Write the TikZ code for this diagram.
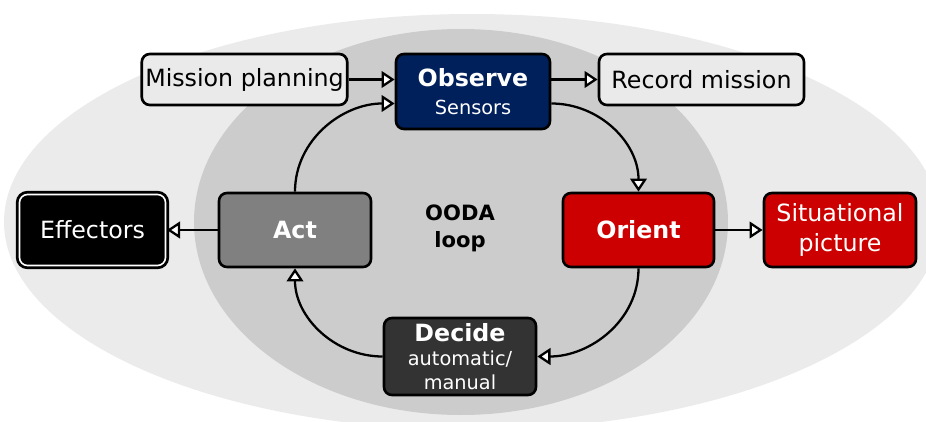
\documentclass[tikz,border=0pt]{standalone}
\usepackage{fontspec}
\setmainfont{DejaVu Sans}
\usetikzlibrary{positioning, calc, arrows.meta}
\definecolor{outergray}{HTML}{EBEBEB}
\definecolor{innergray}{HTML}{CCCCCC}
\definecolor{lightbox}{HTML}{EAEAEA}
\definecolor{navy}{HTML}{00205B}
\definecolor{actgray}{HTML}{808080}
\definecolor{oodared}{HTML}{CC0000}
\definecolor{darkbox}{HTML}{333333}
\newcommand{\subsize}{\fontsize{11}{13}\selectfont}

\begin{document}
\begin{tikzpicture}[
  box/.style={draw=black, line width=1.5pt, rounded corners=0.16cm, align=center,
    inner sep=2pt, font=\fontsize{13.5}{16}\selectfont},
  widebox/.style={box, fill=lightbox, minimum width=4.1cm, minimum height=1.02cm},
  loopbox/.style={box, text=white, minimum width=3.04cm, minimum height=1.48cm},
  link/.style={line width=1.3pt, line join=miter, ->, >={Triangle[length=7.5pt, width=9.5pt, fill=white]}}
]
\useasboundingbox (0,0) rectangle (18.52,8.42);
\clip (0,0) rectangle (18.52,8.42);
\fill[outergray] (9.44,3.98) ellipse [x radius=9.36, y radius=4.16];
\fill[innergray] (9.22,3.98) ellipse [x radius=5.34, y radius=3.86];

\node[widebox] (mission) at (4.89,6.83) {Mission planning};
\node[loopbox, fill=navy, minimum width=3.08cm, minimum height=1.5cm] (observe) at (9.46,6.59)
  {\textbf{Observe}\\[0pt]\subsize Sensors};
\node[widebox] (record) at (14.03,6.83) {Record mission};
\node[loopbox, fill=black, line width=1.6pt, double=white, double distance=0.9pt, minimum width=2.92cm, minimum height=1.42cm] (effectors) at (1.85,3.82) {Effectors};
\node[loopbox, fill=actgray, font=\fontsize{13.5}{16}\bfseries] (act) at (5.90,3.82) {Act};
\node[align=center, font=\fontsize{12}{15.5}\bfseries] (ooda) at (9.20,3.86) {OODA\\loop};
\node[loopbox, fill=oodared, minimum width=3.02cm, font=\fontsize{13.5}{16}\bfseries] (orient) at (12.77,3.82) {Orient};
\node[loopbox, fill=oodared, font=\fontsize{13.5}{17}\selectfont] (situational) at (16.80,3.82) {Situational\\picture};
\node[loopbox, fill=darkbox, minimum height=1.54cm] (decide) at (9.20,1.29)
  {\textbf{Decide}\\[-2.4pt]\subsize automatic/\\[-2.3pt]\subsize manual};

\draw[link] (mission.east) -- (mission.east -| observe.west);
\draw[link] (observe.east |- record.west) -- (record.west);
\draw[link] ([yshift=-0.24cm]observe.east) to[out=0, in=90] (orient.north);
\draw[link] (orient.east) -- (situational.west);
\draw[link] (orient.south) to[out=-90, in=0] (decide.east);
\draw[link] (decide.west) to[out=180, in=-90] (act.south);
\draw[link] (act.north) to[out=90, in=180] ([yshift=-0.24cm]observe.west);
\draw[link] (act.west) -- (effectors.east);
\end{tikzpicture}
\end{document}
